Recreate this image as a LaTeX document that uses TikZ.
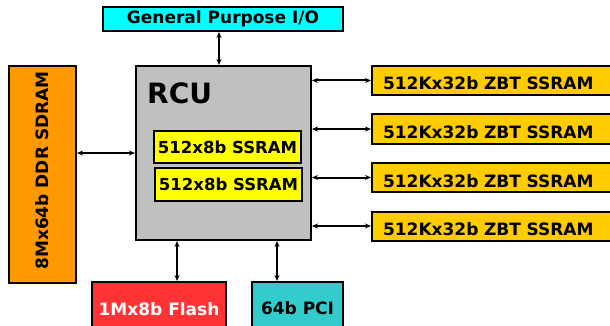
\documentclass[tikz,border=0pt]{standalone}
\usepackage{fontspec}
\setmainfont{DejaVu Sans}
\usetikzlibrary{arrows.meta,positioning}
\definecolor{gpiocyan}{HTML}{00FFFF}
\definecolor{rcugrey}{HTML}{C0C0C0}
\definecolor{ddrorange}{HTML}{FF9900}
\definecolor{sramyellow}{HTML}{FFFF00}
\definecolor{zbtgold}{HTML}{FFCC00}
\definecolor{flashred}{HTML}{FF3333}
\definecolor{pciteal}{HTML}{33CCCC}
\tikzset{blk/.style={draw=black,line width=2pt,inner sep=0pt,font=\fontsize{17}{19}\selectfont\bfseries},
         zbt/.style={blk,fill=zbtgold,anchor=west,text width=228pt,inner xsep=11pt,align=left,minimum height=29pt,text height=19pt,text depth=0pt},
         bus/.style={line width=2pt,{Stealth[length=6pt,width=5pt]}-{Stealth[length=6pt,width=5pt]}}}

\begin{document}
\begin{tikzpicture}[x=1pt,y=-1pt]
                \useasboundingbox (0,0) rectangle (610,326);
                \clip (0,0) rectangle (610,326);
                % processor and its local memories
                \node[blk,fill=rcugrey,minimum width=175pt,minimum height=174pt] (rcu) at (223.5,153) {};
                \node[anchor=west,inner sep=0pt,font=\fontsize{28}{30}\selectfont\bfseries] (rcutxt) at (147,93) {RCU};
                \node[blk,fill=sramyellow,minimum width=147pt,minimum height=32pt,font=\fontsize{16.5}{18}\selectfont\bfseries] (sram1) at (227.5,147) {512x8b SSRAM};
                \node[blk,fill=sramyellow,minimum width=147pt,minimum height=33pt,font=\fontsize{16.5}{18}\selectfont\bfseries] (sram2) at (228.5,184.5) {512x8b SSRAM};
                % peripherals
                \node[blk,fill=gpiocyan,minimum width=240pt,minimum height=24pt] (gpio) at (223,19) {General Purpose I/O};
                \node[blk,fill=ddrorange,minimum width=67pt,minimum height=217pt] (ddr) at (42.5,174.5) {};
                \node[rotate=90,inner sep=0pt,font=\fontsize{17}{19}\selectfont\bfseries] (ddrtxt) at (42.5,170.5) {8Mx64b DDR SDRAM};
                \node[blk,fill=flashred,text=white,minimum width=134pt,minimum height=54pt] (flash) at (159,309) {1Mx8b Flash};
                \node[blk,fill=pciteal,minimum width=91pt,minimum height=52pt] (pci) at (297.5,308) {64b PCI};
                \node[zbt] (zbt1) at (371,80.5) {512Kx32b ZBT SSRAM};
                \node[zbt] (zbt2) at (371,129) {512Kx32b ZBT SSRAM};
                \node[zbt] (zbt3) at (371,177.5) {512Kx32b ZBT SSRAM};
                \node[zbt] (zbt4) at (371,226) {512Kx32b ZBT SSRAM};
                % buses
                \draw[bus] ([xshift=-4pt]gpio.south) -- ([xshift=-4pt]gpio.south |- rcu.north);
                \draw[bus] (ddr.east |- rcu.west) -- (rcu.west);
                \draw[bus] ([xshift=-46.5pt]rcu.south) -- ([xshift=-46.5pt]rcu.south |- flash.north);
                \draw[bus] ([xshift=53.5pt]rcu.south) -- ([xshift=53.5pt]rcu.south |- pci.north);
                \draw[bus] (rcu.east |- zbt1.west) -- (zbt1.west);
                \draw[bus] (rcu.east |- zbt2.west) -- (zbt2.west);
                \draw[bus] (rcu.east |- zbt3.west) -- (zbt3.west);
                \draw[bus] (rcu.east |- zbt4.west) -- (zbt4.west);
\end{tikzpicture}
\end{document}
